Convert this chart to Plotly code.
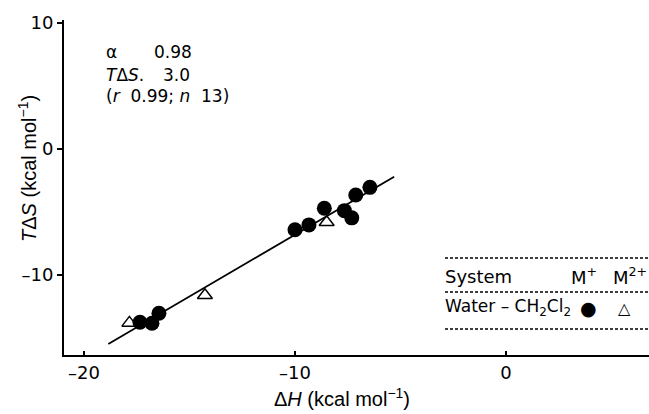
import plotly.graph_objects as go

# ---- data ----
m1_dH = [-17.35, -16.78, -16.45, -10.0, -9.34, -8.61, -7.66, -7.31, -7.12, -6.45]
m1_TdS = [-13.75, -13.83, -13.04, -6.41, -6.02, -4.70, -4.89, -5.46, -3.64, -3.04]
m2_dH = [-17.85, -14.27, -8.50]
m2_TdS = [-13.8, -11.6, -5.81]
fit_alpha = 0.98
fit_TdS0 = 3.0
fit_x = [-18.85, -5.3]
fit_y = [fit_alpha * v + fit_TdS0 for v in fit_x]
x_ticks = [-20, -10, 0]
x_ticktext = ["\u201320", "\u201310", "0"]
y_ticks = [-10, 0, 10]
y_ticktext = ["\u201310", "0", "10"]

W, H = 649, 414
L, T, B = 64, 20, 59
PW, PH = W - L, H - T - B


def px(x):
    return (x - L) / PW


def py(y):
    return (H - B - y) / PH


FONT = "DejaVu Sans"
TFONT = "Liberation Sans"
fig = go.Figure()
fig.add_trace(go.Scatter(x=fit_x, y=fit_y, mode="lines",
                         line=dict(color="black", width=1.8), showlegend=False))
fig.add_trace(go.Scatter(x=m1_dH, y=m1_TdS, mode="markers",
                         marker=dict(symbol="circle", size=15, color="black"),
                         showlegend=False))
fig.add_trace(go.Scatter(x=m2_dH, y=m2_TdS, mode="markers",
                         marker=dict(symbol="triangle-up-open", size=13, color="black",
                                     line=dict(width=1.5, color="black")),
                         showlegend=False))

fig.update_layout(
    width=W, height=H,
    margin=dict(l=L, r=0, t=T, b=B),
    paper_bgcolor="white", plot_bgcolor="white",
    font=dict(family=FONT, size=18, color="black"),
    xaxis=dict(range=[-20.95, 6.78], tickvals=x_ticks, ticktext=x_ticktext,
               ticks="inside", ticklen=4, tickwidth=1.5, tickcolor="black",
               showline=True, linecolor="black", linewidth=2, showgrid=False,
               zeroline=False, automargin=False),
    yaxis=dict(range=[-16.35, 10.25], tickvals=y_ticks, ticktext=y_ticktext,
               ticks="outside", ticklen=5, tickwidth=1.5, tickcolor="black",
               showline=True, linecolor="black", linewidth=2, showgrid=False,
               zeroline=False, automargin=False),
)


def note(text, x, y, size=17, xanchor="left", family=FONT, angle=0):
    fig.add_annotation(text=text, xref="paper", yref="paper", x=px(x), y=py(y),
                       xanchor=xanchor, yanchor="middle", showarrow=False,
                       textangle=angle,
                       font=dict(family=family, size=size, color="black"))


# axis titles
note("\u0394<i>H</i> (kcal mol<sup>\u22121</sup>)", 342, 398, size=20,
     xanchor="center", family=TFONT)
note("<i>T</i>\u0394<i>S</i> (kcal mol<sup>\u22121</sup>)", 27, 169, size=20,
     xanchor="center", family=TFONT, angle=-90)

# fit parameters annotation
note("\u03b1", 104, 52)
note("0.98", 152, 52)
note("<i>T</i>\u0394<i>S</i>.", 104, 75)
note("3.0", 161, 75)
note("(<i>r</i>\u00a0\u00a00.99;\u00a0<i>n</i>\u00a0\u00a013)", 104, 96)

# legend table
for yy in [258, 292, 329]:
    fig.add_shape(type="line", xref="paper", yref="paper", x0=px(445), x1=px(649),
                  y0=py(yy), y1=py(yy), line=dict(color="black", width=1.5, dash="3px,2px"))
note("System", 443, 276, size=18)
note("M<sup>+</sup>", 569, 276, size=18)
note("M<sup>2+</sup>", 611, 276, size=18)
note("Water \u2013 CH<sub>2</sub>Cl<sub>2</sub>", 443, 307, size=17)
note("\u25cf", 588, 308, size=19, xanchor="center")
note("\u25b3", 624, 308, size=16, xanchor="center")

fig.write_html("out.html", config={"displayModeBar": False},
               post_script="document.body.style.margin='0';")
